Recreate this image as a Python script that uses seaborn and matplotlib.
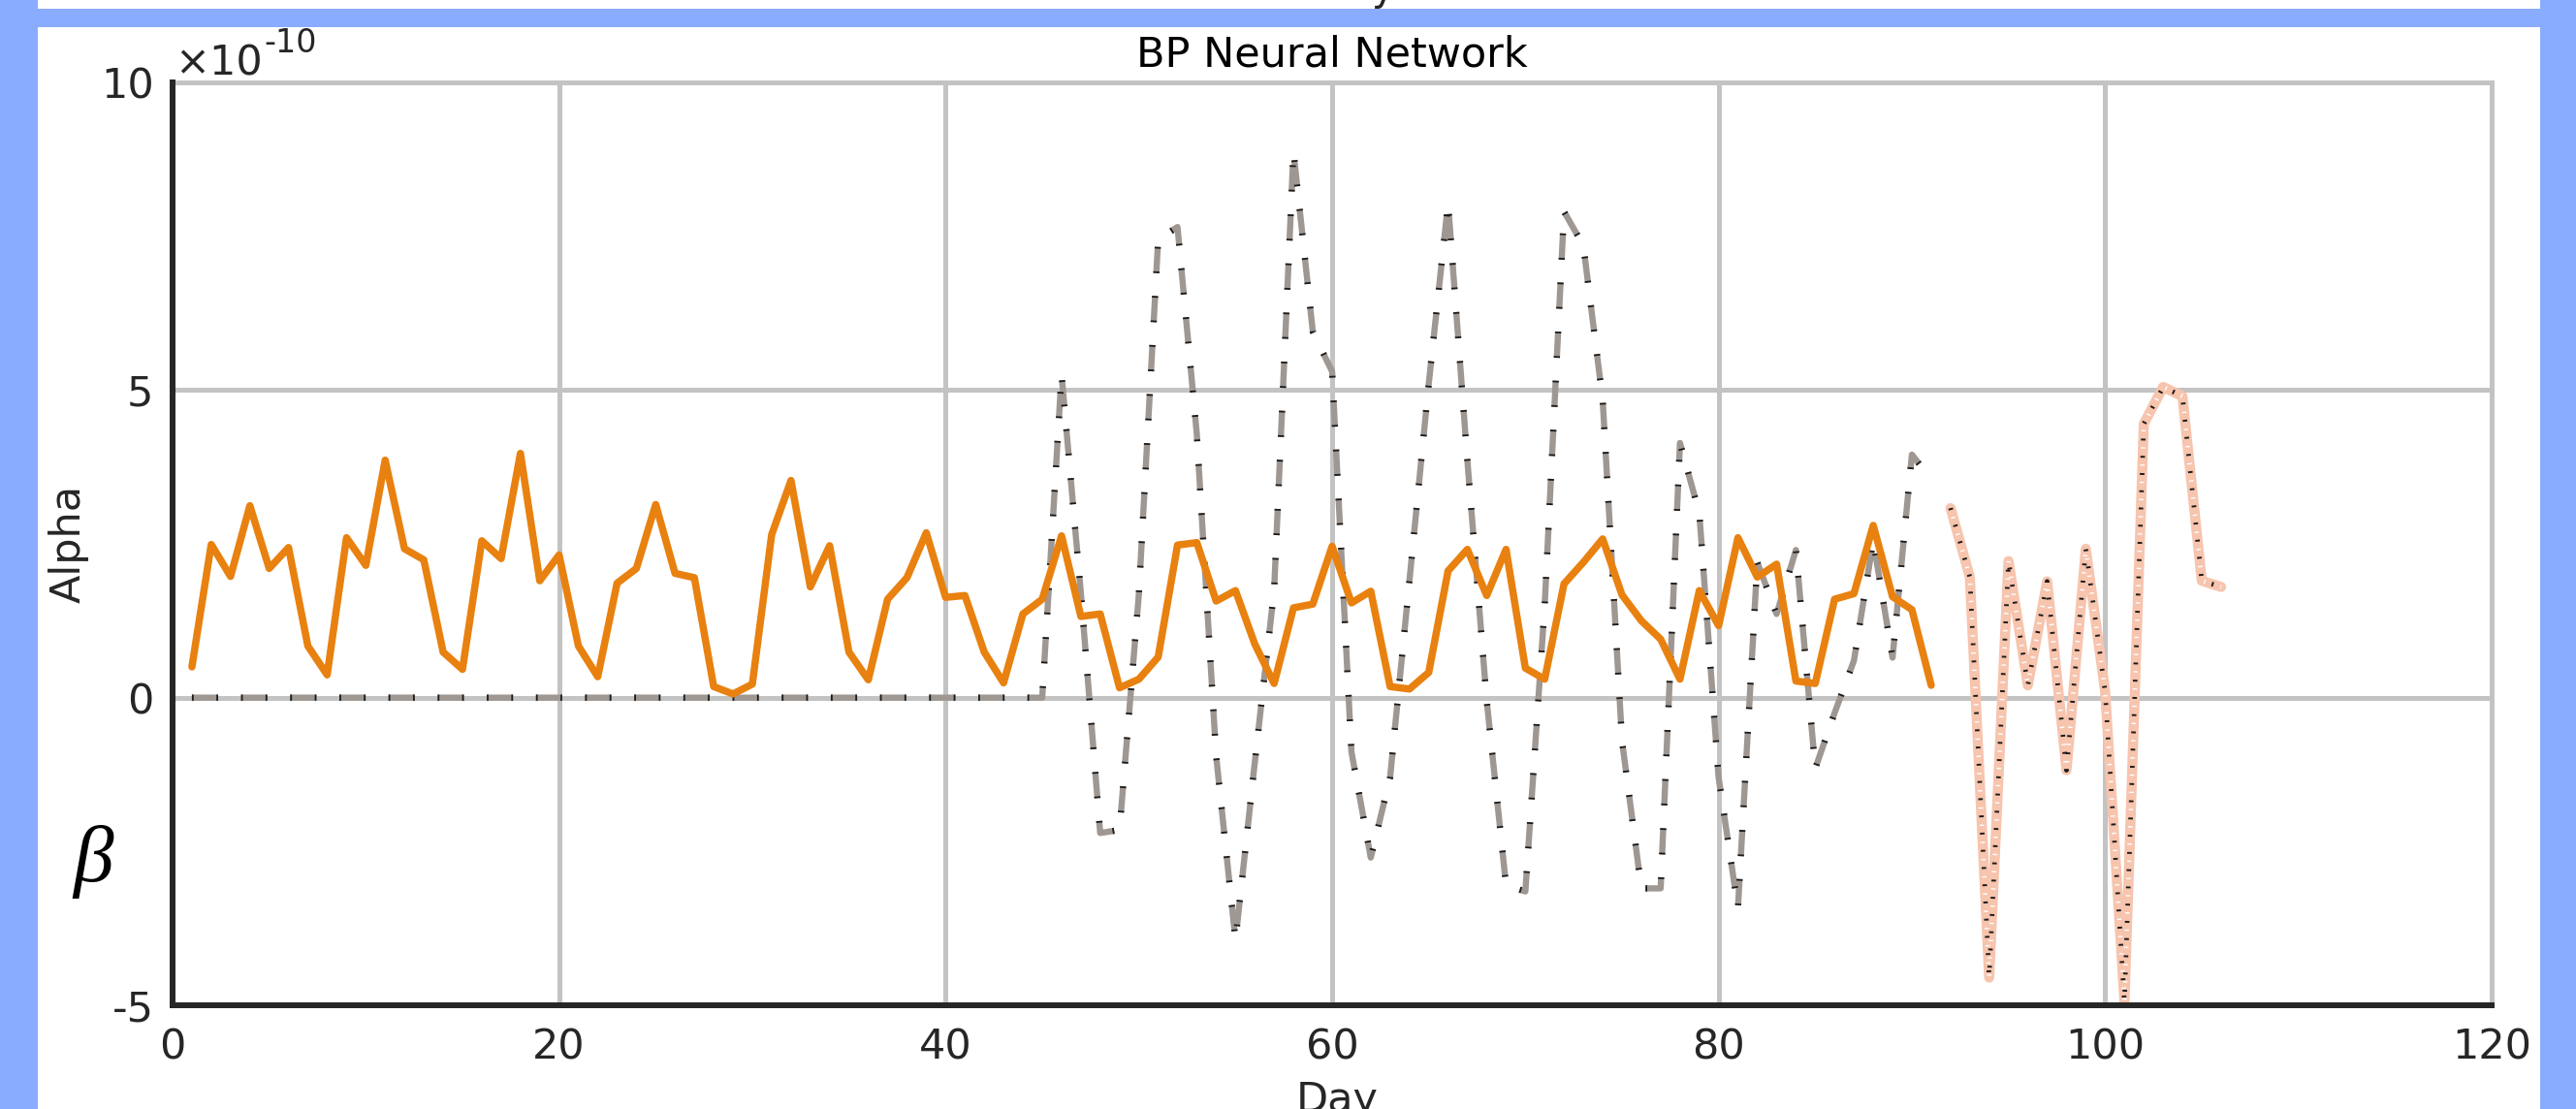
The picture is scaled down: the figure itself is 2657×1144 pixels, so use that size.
import matplotlib
matplotlib.use("Agg")
import matplotlib.pyplot as plt
import pandas as pd
import seaborn as sns
from matplotlib.patches import Rectangle

# ---------------- data (values in units of 1e-10) ----------------
days_bp = list(range(1, 92))
alpha_bp = [0.50, 2.49, 1.97, 3.12, 2.10, 2.44, 0.84, 0.37, 2.60, 2.15,
            3.86, 2.42, 2.24, 0.74, 0.46, 2.55, 2.26, 3.97, 1.90, 2.32,
            0.84, 0.34, 1.86, 2.10, 3.14, 2.02, 1.95, 0.18, 0.06, 0.22,
            2.65, 3.53, 1.80, 2.47, 0.74, 0.29, 1.60, 1.95, 2.68, 1.63,
            1.66, 0.74, 0.24, 1.36, 1.60, 2.63, 1.32, 1.36, 0.16, 0.30,
            0.66, 2.48, 2.52, 1.57, 1.74, 0.87, 0.23, 1.46, 1.52, 2.46,
            1.54, 1.73, 0.18, 0.14, 0.41, 2.06, 2.41, 1.66, 2.41, 0.48,
            0.30, 1.85, 2.20, 2.58, 1.67, 1.25, 0.95, 0.30, 1.74, 1.17,
            2.60, 1.96, 2.17, 0.27, 0.23, 1.60, 1.69, 2.80, 1.64, 1.43,
            0.20]

days_ref = list(range(1, 92))
alpha_ref = [0, 0, 0, 0, 0, 0, 0, 0, 0, 0,
             0, 0, 0, 0, 0, 0, 0, 0, 0, 0,
             0, 0, 0, 0, 0, 0, 0, 0, 0, 0,
             0, 0, 0, 0, 0, 0, 0, 0, 0, 0,
             0, 0, 0, 0, 0, 5.25, 1.70, -2.20, -2.15, 1.68,
             7.45, 7.65, 4.28, -0.95, -3.94, -1.05, 1.75, 8.88, 5.95, 5.30,
             -0.88, -2.60, -1.30, 1.90, 5.10, 8.04, 3.85, -0.05, -3.05, -3.15,
             1.50, 7.90, 7.35, 4.84, -0.70, -3.10, -3.10, 4.14, 3.00, -1.30,
             -3.42, 2.20, 1.36, 2.40, -1.15, -0.25, 0.60, 2.55, 0.65, 3.95,
             3.55]

days_pred = list(range(92, 107))
alpha_pred = [3.08, 1.96, -4.55, 2.22, 0.20, 1.89, -1.18, 2.42, 0.10, -4.95,
              4.45, 5.05, 4.90, 1.90, 1.80]

x_ticks = [0, 20, 40, 60, 80, 100, 120]
y_ticks = [-5, 0, 5, 10]

title_text = "BP Neural Network"
x_label = "Day"
y_label = "Alpha"

# ---------------- style ----------------
sns.set_theme(style="white")
plt.rcParams['font.family'] = ['DejaVu Sans']
plt.rcParams['lines.scale_dashes'] = False
plt.rcParams['axes.unicode_minus'] = False

W, H = 2657, 1144
fig = plt.figure(figsize=(W / 100, H / 100), dpi=100, facecolor='white')

def fx(px):
    return px / W

def fy(py):
    return 1 - py / H

# blue frame
blue = '#8aacfe'
for (x0, y0, w, h) in [(0, 0, 39, H), (2620, 0, W - 2620, H), (0, 9, W, 19)]:
    fig.patches.append(Rectangle((fx(x0), fy(y0 + h)), w / W, h / H,
                                 transform=fig.transFigure, facecolor=blue,
                                 edgecolor='none', zorder=-5))

ax_l, ax_r, ax_t, ax_b = 178, 2570, 85, 1037
ax = fig.add_axes([fx(ax_l), fy(ax_b), (ax_r - ax_l) / W, (ax_b - ax_t) / H])
ax.set_facecolor('white')

df_bp = pd.DataFrame({'Day': days_bp, 'Alpha': alpha_bp})
df_ref = pd.DataFrame({'Day': days_ref, 'Alpha': alpha_ref})
df_pred = pd.DataFrame({'Day': days_pred, 'Alpha': alpha_pred})

# reference (gray dashed with dark tips)
sns.lineplot(data=df_ref, x='Day', y='Alpha', ax=ax, color='#9f9792',
             linewidth=4.6, zorder=3)
ax.get_lines()[-1].set_dashes((19.5, 17.0))
sns.lineplot(data=df_ref, x='Day', y='Alpha', ax=ax, color='#1a1a1a',
             linewidth=4.6, zorder=3.1)
ax.get_lines()[-1].set_dashes((1.3, 16.9, 1.3, 17.0))

# prediction (salmon with black / white bars)
sns.lineplot(data=df_pred, x='Day', y='Alpha', ax=ax, color='#f7c4ae',
             linewidth=7.5, zorder=4)
sns.lineplot(data=df_pred, x='Day', y='Alpha', ax=ax, color='#1a1a1a',
             linewidth=3.4, zorder=4.1)
ax.get_lines()[-1].set_linestyle((0, (1.4, 11.4)))
sns.lineplot(data=df_pred, x='Day', y='Alpha', ax=ax, color='white',
             linewidth=3.4, zorder=4.1)
ax.get_lines()[-1].set_linestyle((6.0, (1.0, 11.8)))

# BP neural network (orange)
sns.lineplot(data=df_bp, x='Day', y='Alpha', ax=ax, color='#e8810f',
             linewidth=5.4, zorder=5)

# axes styling
ax.set_xlim(0, 120)
ax.set_ylim(-5, 10)
ax.set_xticks(x_ticks)
ax.set_yticks(y_ticks)
ax.grid(True, color='#c3c3c3', linewidth=3.6, zorder=0)
ax.set_axisbelow(True)
for s in ['left', 'bottom']:
    ax.spines[s].set_color('#262626')
    ax.spines[s].set_linewidth(4.3)
    ax.spines[s].set_zorder(6)
for s in ['top', 'right']:
    ax.spines[s].set_color('#c3c3c3')
    ax.spines[s].set_linewidth(3.6)
ax.tick_params(axis='both', direction='in', length=13, width=4,
               color='#262626', labelcolor='#262626', labelsize=31)
ax.tick_params(axis='x', pad=16)
ax.tick_params(axis='y', pad=14)

ax.set_title(title_text, fontsize=31, color='black', pad=12)
ax.set_xlabel(x_label, fontsize=31, color='#262626')
ax.set_ylabel(y_label, fontsize=31, color='#262626')
ax.xaxis.set_label_coords(0.502, (ax_b - 1114) / (ax_b - ax_t))
ax.yaxis.set_label_coords((92 - ax_l) / (ax_r - ax_l), 0.5)

# exponent multiplier
fig.text(fx(180), fy(77), "×10", fontsize=31, color='#262626',
         ha='left', va='baseline')
fig.text(fx(272), fy(54), "-10", fontsize=24, color='#262626',
         ha='left', va='baseline')

# beta symbol
fig.text(fx(96), fy(889), "β", fontsize=60, family=['Liberation Serif', 'DejaVu Serif'],
         style='italic', color='black', ha='center', va='center')

# descender of text cut at top
fig.text(fx(1427), 1.0, "y", fontsize=29, color='#262626',
         ha='center', va='baseline')

fig.savefig("out.png", dpi=100, facecolor='white')
